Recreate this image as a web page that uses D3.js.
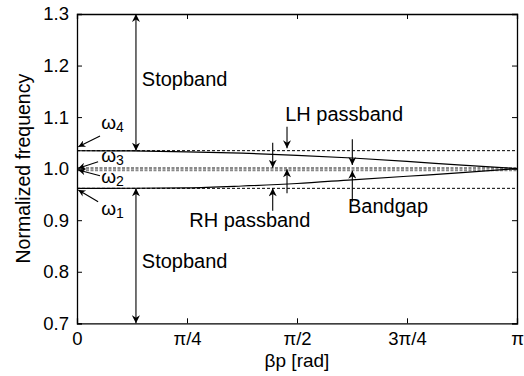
<!DOCTYPE html>
<html>
<head>
<meta charset="utf-8">
<script src="https://cdn.jsdelivr.net/npm/d3@7"></script>
<style>
  html, body { margin: 0; padding: 0; background: #fff; }
  svg { display: block; }
  text { font-family: "Liberation Sans", Arial, sans-serif; fill: #000; }
</style>
</head>
<body>
<svg id="chart" width="524" height="376"></svg>
<script>
// ---- data (beta in units of pi) ----
const betaOverPi = [0, 0.125, 0.25, 0.375, 0.5, 0.625, 0.75, 0.875, 1];
const lhBranch = [1.0347, 1.0343, 1.0327, 1.0300, 1.0259, 1.0207, 1.0141, 1.0067, 1.0000];
const rhBranch = [0.9618, 0.9620, 0.9628, 0.9663, 0.9712, 0.9784, 0.9853, 0.9921, 1.0000];

const omegaNames = ["1", "2", "3", "4"];
const omegaValues = [0.9618, 0.9970, 1.0013, 1.0349];

const yTicks = [0.7, 0.8, 0.9, 1.0, 1.1, 1.2, 1.3];
const xTickPos = [0, 0.25, 0.5, 0.75, 1];
const xTickLabels = ["0", "π/4", "π/2", "3π/4", "π"];

// annotation arrows: [x (beta/pi), y start, y tip, double-headed]
const vArrows = [
  [0.134, 1.3, 1.0349, true],
  [0.134, 0.9618, 0.7, true],
  [0.4773, 1.0815, 1.0395, false],
  [0.4448, 1.0504, 1.0018, false],
  [0.4773, 0.9521, 0.9987, false],
  [0.4448, 0.9183, 0.9618, false],
  [0.6257, 1.0570, 1.0071, false],
  [0.6257, 0.9358, 0.9960, false]
];
// omega pointer arrows: [x0, y0, x1(tip), y1(tip)]
const omegaArrows = [
  [0.0523, 1.0634, 0.003, 1.0426],
  [0.0480, 1.0135, 0.003, 1.0007],
  [0.0523, 0.9863, 0.003, 0.9974],
  [0.0480, 0.9358, 0.003, 0.9585]
];
const omegaLabelPos = [[0.055, 0.9100], [0.055, 0.9725], [0.055, 1.0125], [0.055, 1.0775]]; // ω1..ω4 baseline

const textLabels = [
  ["Stopband", 0.1474, 1.1603],
  ["Stopband", 0.1474, 0.8079],
  ["LH passband", 0.4731, 1.0930],
  ["RH passband", 0.2550, 0.8862],
  ["Bandgap", 0.6159, 0.9145]
];

// ---- drawing ----
const svg = d3.select("#chart");
const xs = d3.scaleLinear().domain([0, 1]).range([77, 517]);
const ys = d3.scaleLinear().domain([0.7, 1.3]).range([323.3, 14]);

const defs = svg.append("defs");
defs.append("marker").attr("id", "ah")
  .attr("viewBox", "0 0 10 10").attr("refX", 10).attr("refY", 5)
  .attr("markerWidth", 9).attr("markerHeight", 8).attr("markerUnits", "userSpaceOnUse")
  .attr("orient", "auto-start-reverse")
  .append("path").attr("d", "M0,0 L10,5 L0,10 L3,5 Z").attr("fill", "#000");
defs.append("marker").attr("id", "ahs")
  .attr("viewBox", "0 0 10 10").attr("refX", 10).attr("refY", 5)
  .attr("markerWidth", 9).attr("markerHeight", 7).attr("markerUnits", "userSpaceOnUse")
  .attr("orient", "auto")
  .append("path").attr("d", "M0,0 L10,5 L0,10 L3,5 Z").attr("fill", "#000");

// dashed omega levels
omegaValues.forEach((v, i) => {
  const gray = (i === 1 || i === 2);
  svg.append("line")
    .attr("x1", xs(0)).attr("x2", xs(1)).attr("y1", ys(v)).attr("y2", ys(v))
    .attr("stroke", gray ? "#8a8a8a" : "#000")
    .attr("stroke-width", gray ? 2 : 1)
    .attr("stroke-dasharray", gray ? "3,1.5" : "3,2");
});

// dispersion branches
const lineGen = d3.line().x((d, i) => xs(betaOverPi[i])).y(d => ys(d)).curve(d3.curveMonotoneX);
[lhBranch, rhBranch].forEach(s => {
  svg.append("path").attr("d", lineGen(s)).attr("fill", "none")
    .attr("stroke", "#000").attr("stroke-width", 1.2);
});

// axes (box with inward ticks)
const axisG = svg.append("g");
const axL = d3.axisLeft(ys).tickValues(yTicks).tickSize(-5).tickPadding(8).tickFormat(d3.format(".1f"));
const axR = d3.axisRight(ys).tickValues(yTicks).tickSize(-5).tickFormat("");
const axB = d3.axisBottom(xs).tickValues(xTickPos).tickSize(-5).tickPadding(9)
  .tickFormat((d, i) => xTickLabels[i]);
const axT = d3.axisTop(xs).tickValues(xTickPos).tickSize(-5).tickFormat("");

const gL = axisG.append("g").attr("transform", `translate(${xs(0)},0)`).call(axL);
const gR = axisG.append("g").attr("transform", `translate(${xs(1)},0)`).call(axR);
const gB = axisG.append("g").attr("transform", `translate(0,${ys(0.7)})`).call(axB);
const gT = axisG.append("g").attr("transform", `translate(0,${ys(1.3)})`).call(axT);
[gL, gR, gB, gT].forEach(g => {
  g.select(".domain").attr("stroke", "#000").attr("stroke-width", 1.3);
  g.selectAll(".tick line").attr("stroke", "#000").attr("stroke-width", 1);
  g.selectAll("text").attr("font-size", 18.5).attr("fill", "#000")
    .attr("font-family", "'Liberation Sans', Arial, sans-serif");
});

// axis titles
svg.append("text").attr("x", (xs(0) + xs(1)) / 2).attr("y", 367)
  .attr("text-anchor", "middle").attr("font-size", 19).text("βp [rad]");
svg.append("text").attr("transform", `translate(30,${(ys(0.7) + ys(1.3)) / 2}) rotate(-90)`)
  .attr("text-anchor", "middle").attr("font-size", 19.5).text("Normalized frequency");

// vertical arrows
vArrows.forEach(([bx, y0, y1, dbl]) => {
  const l = svg.append("line")
    .attr("x1", xs(bx)).attr("x2", xs(bx)).attr("y1", ys(y0)).attr("y2", ys(y1))
    .attr("stroke", "#000").attr("stroke-width", 1.1)
    .attr("marker-end", "url(#ah)");
  if (dbl) l.attr("marker-start", "url(#ah)");
});

// omega pointer arrows
omegaArrows.forEach(([a, b, c, d]) => {
  svg.append("line")
    .attr("x1", xs(a)).attr("y1", ys(b)).attr("x2", xs(c)).attr("y2", ys(d))
    .attr("stroke", "#000").attr("stroke-width", 1.1)
    .attr("marker-end", "url(#ahs)");
});

// omega labels
omegaLabelPos.forEach(([bx, by], i) => {
  const t = svg.append("text").attr("x", xs(bx)).attr("y", ys(by)).attr("font-size", 19);
  t.append("tspan").text("ω");
  t.append("tspan").attr("font-size", 14).attr("dy", 3).text(omegaNames[i]);
});

// text labels
textLabels.forEach(([s, bx, by]) => {
  svg.append("text").attr("x", xs(bx)).attr("y", ys(by)).attr("font-size", 20).text(s);
});
</script>
</body>
</html>
